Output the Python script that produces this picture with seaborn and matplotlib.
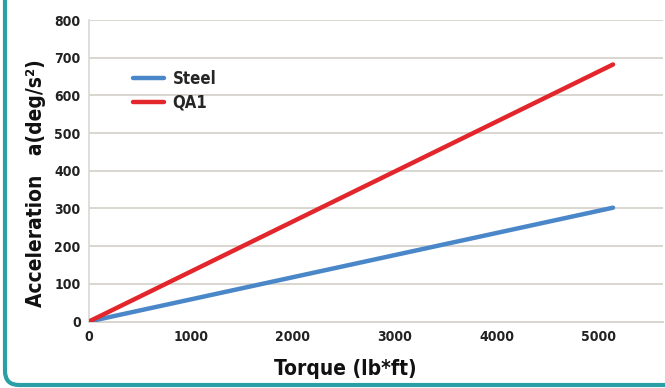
import numpy as np
import pandas as pd
import matplotlib
matplotlib.use("Agg")
import matplotlib.pyplot as plt
from matplotlib.path import Path
from matplotlib.patches import PathPatch
import seaborn as sns

# data
torque = [0, 5140]
steel = [0, 302]
qa1 = [0, 682]
series_names = ["Steel", "QA1"]
x_ticks = [0, 1000, 2000, 3000, 4000, 5000]
y_ticks = [0, 100, 200, 300, 400, 500, 600, 700, 800]

df = pd.DataFrame({
    "Torque": torque * 2,
    "Acceleration": steel + qa1,
    "Material": [series_names[0]] * len(torque) + [series_names[1]] * len(torque),
})

sns.set_theme(style="white")
plt.rcParams["font.family"] = ["DejaVu Sans"]
plt.rcParams["font.stretch"] = "condensed"
plt.rcParams["font.weight"] = "bold"

W, H = 665, 388
fig = plt.figure(figsize=(W / 100, H / 100), dpi=100)
fig.patch.set_facecolor("white")

# teal frame: left edge with rounded bottom corner (pixel coords -> figure fraction)
r = 14
pts = [(5, H + 5), (5, 3 + r), (5, 3), (5 + r, 3), (W + 5, 3)]
codes = [Path.MOVETO, Path.LINETO, Path.CURVE3, Path.CURVE3, Path.LINETO]
frame_path = Path([(x / W, y / H) for x, y in pts], codes)
fig.patches.append(PathPatch(frame_path, transform=fig.transFigure, fill=False,
                             edgecolor="#2a9fa6", linewidth=3, zorder=-5))

ax = fig.add_axes([89 / W, 1 - 321.5 / H, 574 / W, 301.5 / H])
ax.set_facecolor("white")

sns.lineplot(data=df, x="Torque", y="Acceleration", hue="Material",
             palette={"Steel": "#4a87c9", "QA1": "#e3262b"},
             linewidth=3.2, ax=ax, zorder=3)

ax.set_xlim(0, 5630)
ax.set_ylim(0, 800)
ax.set_xticks(x_ticks)
ax.set_yticks(y_ticks)
ax.yaxis.grid(True, color="#d9d5cf", linewidth=1.4)
ax.xaxis.grid(False)
for side in ["top", "right"]:
    ax.spines[side].set_visible(False)
ax.spines["left"].set_color("#dcdad6")
ax.spines["bottom"].set_color("#d9d5cf")
ax.spines["bottom"].set_linewidth(1.4)
ax.tick_params(axis="both", length=0, labelsize=10, colors="#222222")
ax.tick_params(axis="x", pad=6)
ax.tick_params(axis="y", pad=6)
for lab in ax.get_xticklabels() + ax.get_yticklabels():
    lab.set_fontweight("bold")
    lab.set_fontstretch("condensed")

ax.set_xlabel("Torque (lb*ft)", fontsize=15, fontweight="bold", color="#111111")
ax.set_ylabel("Acceleration   a(deg/s²)", fontsize=15, fontweight="bold", color="#111111")
ax.xaxis.set_label_coords((345 - 89) / 574, -0.125)
ax.yaxis.set_label_coords(-0.075, 0.46)

leg = ax.legend(loc="upper left", bbox_to_anchor=(0.05, 0.885), frameon=False,
                handlelength=1.9, handletextpad=0.5, labelspacing=0.35,
                prop={"size": 12, "weight": "bold", "stretch": "condensed"})
for line in leg.get_lines():
    line.set_linewidth(3.2)

fig.savefig("out.png", dpi=100)
